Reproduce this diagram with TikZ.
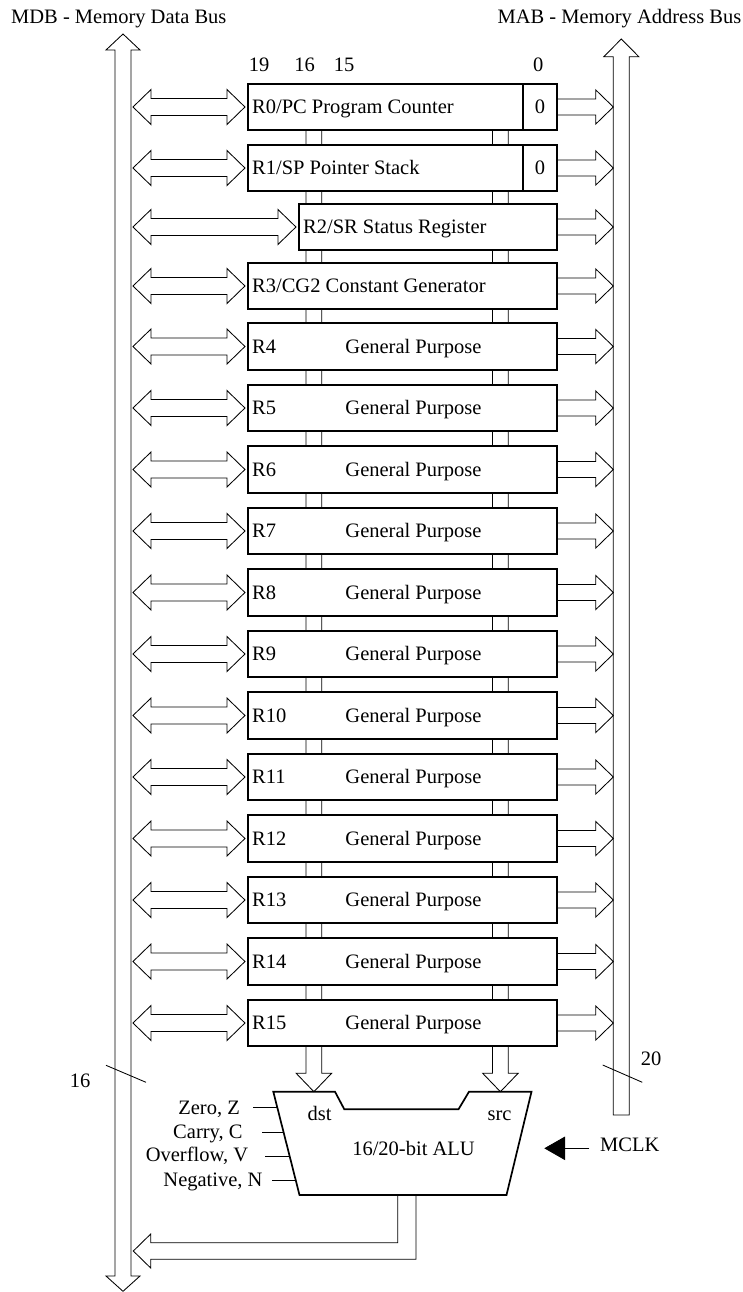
\documentclass[tikz,border=0pt]{standalone}
\usepackage{fontspec}
\setmainfont{Liberation Serif}
\usetikzlibrary{calc,arrows.meta,backgrounds}

% hollow two-headed horizontal bus arrow: #1 left tip, #2 right tip
\newcommand\twowaybus[2]{%
  \draw[fatline] let \p1=(#1), \p2=(#2) in
    (\x1,\y1) -- (\x1+18pt,\y1+17.5pt) -- (\x1+18pt,\y1+8.5pt)
    -- (\x2-18pt,\y1+8.5pt) -- (\x2-18pt,\y1+17.5pt) -- (\x2,\y1)
    -- (\x2-18pt,\y1-17.5pt) -- (\x2-18pt,\y1-8.5pt)
    -- (\x1+18pt,\y1-8.5pt) -- (\x1+18pt,\y1-17.5pt) -- cycle;}

% hollow one-headed horizontal bus arrow: #1 start, #2 tip
\newcommand\onewaybus[2]{%
  \draw[fatline] let \p1=(#1), \p2=(#2) in
    (\x1,\y1+8pt) -- (\x2-17.5pt,\y1+8pt) -- (\x2-17.5pt,\y1+17pt)
    -- (\x2,\y1) -- (\x2-17.5pt,\y1-17pt) -- (\x2-17.5pt,\y1-8pt)
    -- (\x1,\y1-8pt);}

% hollow downward bus arrow: #1 top of shaft, #2 tip
\newcommand\downbus[2]{%
  \draw[fatline] let \p1=(#1), \p2=(#2) in
    (\x1-7.85pt,\y1) -- (\x1-7.85pt,\y2+18.4pt) -- (\x1-17.7pt,\y2+18.4pt)
    -- (\x1,\y2) -- (\x1+17.7pt,\y2+18.4pt) -- (\x1+7.85pt,\y2+18.4pt)
    -- (\x1+7.85pt,\y1);}

\begin{document}
\begin{tikzpicture}[x=1pt,y=-1pt,
  lbl/.style={font=\fontsize{20.5}{24}\selectfont, inner sep=0pt},
  regbox/.style={draw, line width=1.7pt, fill=white, minimum height=46.6pt,
                 inner sep=0pt, font=\fontsize{20.5}{24}\selectfont},
  fatline/.style={line width=0.85pt, line join=miter},
  thinline/.style={line width=0.85pt}]

\useasboundingbox (0,0) rectangle (743,1292);

% ---- bus titles
\node[lbl, anchor=base west] (mdbtitle) at (11,24) {MDB - Memory Data Bus};
\node[lbl, anchor=base east] (mabtitle) at (741.5,24) {MAB - Memory Address Bus};

% ---- bit positions
\node[lbl, anchor=base] (b19) at (259,72) {19};
\node[lbl, anchor=base] (b16) at (304.7,72) {16};
\node[lbl, anchor=base] (b15) at (344,72) {15};
\node[lbl, anchor=base] (b0)  at (538.3,72) {0};

% ---- reference points of the two system buses and the ALU lanes
\coordinate (mdbTop) at (123,34);
\coordinate (mdbBot) at (123,1291.3);
\coordinate (mdbR)   at (133,0);
\coordinate (mabTop) at (621.3,39);
\coordinate (mabL)   at (613.3,0);
\coordinate (dstX)   at (313.9,0);
\coordinate (srcX)   at (500.4,0);

% ---- memory data bus (two-way, vertical)
\draw[fatline] (mdbTop) -- (140,50) -- (131,50) -- (131,1276) -- (140,1276)
  -- (mdbBot) -- (106,1276) -- (115,1276) -- (115,50) -- (106,50) -- cycle;

% ---- memory address bus (upward)
\draw[fatline] (mabTop) -- (638.8,56.7) -- (629.3,56.7) -- (629.3,1115)
  -- (613.3,1115) -- (613.3,56.7) -- (603.8,56.7) -- cycle;

% ---- register file
\node[regbox, minimum width=308.4] (r0) at (402.5,107) {};
\node[regbox, minimum width=308.4] (r1) at (402.5,168) {};
\node[regbox, minimum width=257.4] (r2) at (428,227) {};
\node[regbox, minimum width=308.4] (r3) at (402.5,286) {};
\foreach \i in {4,...,15}{
  \node[regbox, minimum width=308.4] (r\i) at (402.5,{346.5+(\i-4)*61.5}) {};
}
\node[regbox, minimum width=33.4] (c0) at (540,107) {0};
\node[regbox, minimum width=33.4] (c1) at (540,168) {0};

\node[lbl, anchor=base west] (l0) at ($(r0.west)+(4.5,6.7)$) {R0/PC Program Counter};
\node[lbl, anchor=base west] (l1) at ($(r1.west)+(4.5,6.7)$) {R1/SP Pointer Stack};
\node[lbl, anchor=base west] (l2) at ($(r2.west)+(4.5,6.7)$) {R2/SR Status Register};
\node[lbl, anchor=base west] (l3) at ($(r3.west)+(4.5,6.7)$) {R3/CG2 Constant Generator};
\foreach \i in {4,...,15}{
  \node[lbl, anchor=base west] (l\i) at ($(r\i.west)+(4.5,6.7)$) {R\i};
  \node[lbl, anchor=base] (g\i) at ($(r\i.center -| 413.5,0)+(0,6.7)$) {General Purpose};
}

% ---- register <-> data bus, register -> address bus
\foreach \i in {0,...,15}{
  \twowaybus{r\i.west -| mdbR}{$(r\i.west)+(-2.5,0)$}
  \onewaybus{r\i.east}{r\i.east -| mabL}
}

% ---- ALU
\coordinate (aluTL) at (273.3,1091.7);
\coordinate (aluBL) at (299.5,1195);
\coordinate (aluBR) at (506.5,1195);
\coordinate (aluTR) at (531.5,1091.7);
\draw[line width=1.7pt, line join=miter] (aluTL) -- (335,1091.7) -- (344.3,1109.3)
  -- (458.5,1109.3) -- (469,1091.7) -- (aluTR) -- (aluBR) -- (aluBL) -- cycle;
\node[lbl, anchor=base] (dst) at (319.5,1120) {dst};
\node[lbl, anchor=base] (src) at (499.5,1120) {src};
\node[lbl, anchor=base] (alu) at (413.5,1155) {16/20-bit ALU};

% ---- register lanes into the ALU operands
\begin{pgfonlayer}{background}
  \downbus{r0.center -| dstX}{dstX |- aluTL}
  \downbus{r0.center -| srcX}{srcX |- aluTL}
\end{pgfonlayer}

% ---- status flags
\foreach \t/\len/\nm in {0.155/24/z, 0.39/21.8/c, 0.625/24.7/v, 0.855/23.4/n}{
  \coordinate (f\nm) at ($(aluTL)!\t!(aluBL)$);
  \draw[thinline] (f\nm) -- ++(-\len,0);
}
\node[lbl, anchor=base east] (zf) at (240,1114) {Zero, Z};
\node[lbl, anchor=base east] (cf) at (242.7,1138.3) {Carry, C};
\node[lbl, anchor=base east] (vf) at (248.3,1161.7) {Overflow, V};
\node[lbl, anchor=base east] (nf) at (262.7,1186) {Negative, N};

% ---- clock input
\node[lbl, anchor=base west] (mclk) at (600,1151) {MCLK};
\draw[thinline, -{Triangle[length=20.7pt,width=23.4pt]}]
  ($(mclk.base west)+(-10.7,-2.7)$) -- ++(-45,0);

% ---- ALU result back to the data bus
\coordinate (outL) at (397.7,1195);
\coordinate (outR) at (416,1195);
\coordinate (retTip) at (133.3,1251);
\draw[fatline] (outL) |- ++(-247,47.7) -- ++(0,-8.7) -- (retTip)
  -- ++(17.4,17) -- ++(0,-8.7) -| (outR);

% ---- bus widths
\node[lbl, anchor=base] (w16) at (80,1087.3) {16};
\draw[thinline] (106,1065.3) -- (146,1082.3);
\node[lbl, anchor=base] (w20) at (651,1065) {20};
\draw[thinline] (602.7,1065) -- (642.3,1082.3);

\end{tikzpicture}
\end{document}
